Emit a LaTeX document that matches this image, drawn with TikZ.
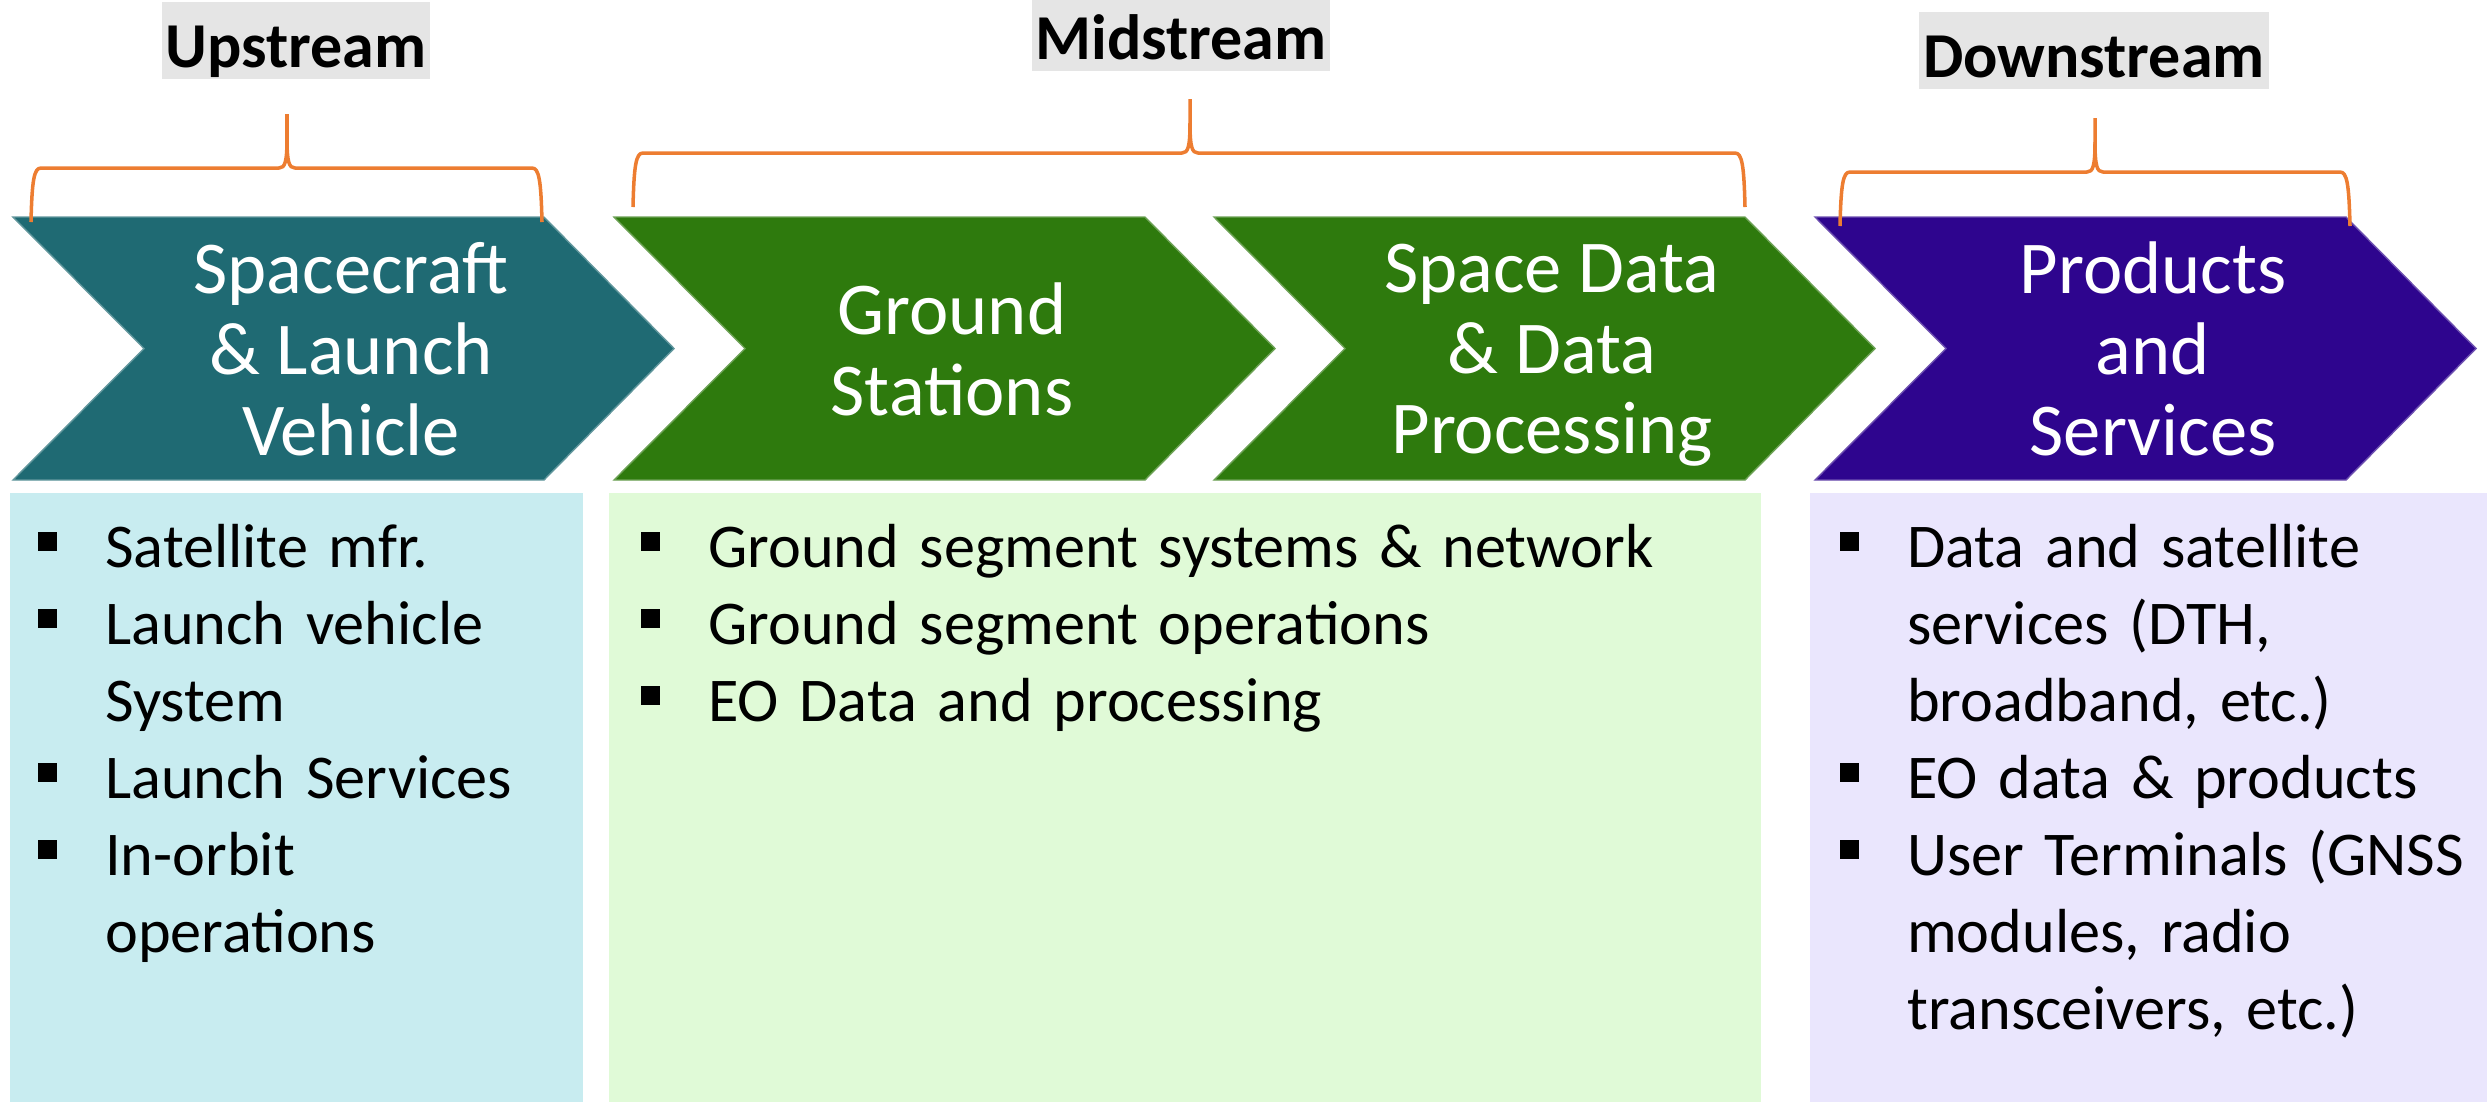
\documentclass[tikz,border=0pt]{standalone}
\usepackage{fontspec}
\setmainfont{Carlito}
\usepackage{tikz}

\definecolor{upteal}{HTML}{1F6A73}
\definecolor{midgreen}{HTML}{2E7A0D}
\definecolor{downpurple}{HTML}{2E058E}
\definecolor{upbg}{HTML}{C8ECF0}
\definecolor{midbg}{HTML}{E0FAD7}
\definecolor{downbg}{HTML}{EAE6FD}
\definecolor{tagbg}{HTML}{E5E5E5}
\definecolor{braceorange}{HTML}{ED7D31}

\newcommand{\sqbullet}{\rule[4.5pt]{5.4pt}{5.4pt}}
\newcommand{\bitem}[1]{\par\hangindent=19.2pt\hangafter=1\noindent\makebox[19.2pt][l]{\sqbullet}#1}
% left end, middle, right end, height of the bar
\newcommand{\streambrace}[4]{%
  \draw[brace] (#1,#4+54) .. controls (#1+1,#4+12) and (#1+3,#4) .. (#1+10,#4) -- (#2-8,#4) .. controls (#2-2,#4) and (#2,#4-6) .. (#2,#4-30) -- (#2,#4-54);
  \draw[brace] (#3,#4+54) .. controls (#3-1,#4+12) and (#3-3,#4) .. (#3-10,#4) -- (#2+8,#4) .. controls (#2+2,#4) and (#2,#4-6) .. (#2,#4-30);
}

\begin{document}
\begin{tikzpicture}[x=0.01cm, y=-0.01cm,
chev/.style={draw=#1!70!white, line width=0.4pt, fill=#1},
chevtext/.style={text=white, align=center, inner sep=0, font=\fontsize{21.2}{23}\selectfont, execute at begin node=\strut, execute at end node=\strut},
list/.style={anchor=base west, inner sep=0, text width=11cm, align=left, font=\fontsize{17.7}{21.9}\selectfont},
tag/.style={fill=tagbg, anchor=base, inner xsep=0.04cm, inner ysep=0, text height=0.65cm, text depth=0.12cm, font=\bfseries\fontsize{18.2}{20}\selectfont},
brace/.style={draw=braceorange, line width=1pt, line join=round}
]
\useasboundingbox (0,0) rectangle (2487,1102);
%Boxes
\fill[upbg]   (10,493)   rectangle (583,1102);
\fill[midbg]  (609,493)  rectangle (1761,1102);
\fill[downbg] (1810,493) rectangle (2487,1102);
%Chevrons
\foreach \x/\col in {13/upteal, 614/midgreen, 1214/midgreen, 1815/downpurple}
  \filldraw[chev=\col] (\x,217) -- (\x+531,217) -- (\x+661,348.5) -- (\x+531,480) -- (\x,480) -- (\x+131,348.5) -- cycle;
\node[chevtext] (sc) at (351,361)  {Spacecraft\\\& Launch\\Vehicle};
\node[chevtext] (gs) at (952,361)  {Ground\\Stations};
\node[chevtext] (sd) at (1552,361) {Space Data\\\& Data\\Processing};
\node[chevtext] (ps) at (2153,361) {Products\\and\\Services};
%Tags
\node[tag] (up)   at (296,67)  {Upstream};
\node[tag] (mid)  at (1181,59) {Midstream};
\node[tag] (down) at (2094,77) {Downstream};
%Braces
\streambrace{31}{287}{542}{168}
\streambrace{633}{1190}{1745}{153}
\streambrace{1840}{2095}{2350}{172}
%Lists
\node[list] (upl) at (37,490) {\bitem{Satellite mfr.}\bitem{Launch vehicle\newline System}\bitem{Launch Services}\bitem{In-orbit\newline operations}\par};
\node[list] (midl) at (640,490) {\bitem{Ground segment systems \& network}\bitem{Ground segment operations}\bitem{EO Data and processing}\par};
\node[list] (downl) at (1839,490) {\bitem{Data and satellite\newline services (DTH,\newline broadband, etc.)}\bitem{EO data \& products}\bitem{User Terminals (GNSS\newline modules, radio\newline transceivers, etc.)}\par};
\end{tikzpicture}
\end{document}
